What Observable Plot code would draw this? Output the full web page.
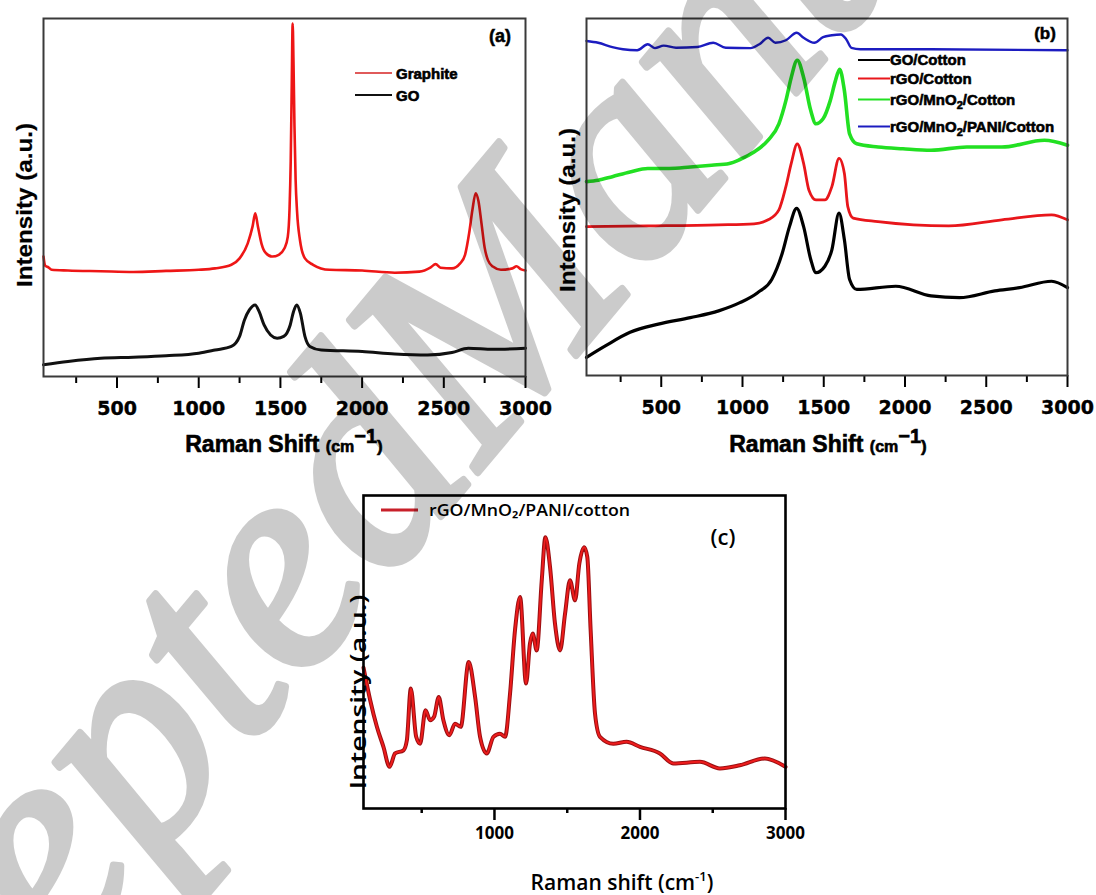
<!DOCTYPE html>
<html><head><meta charset="utf-8">
<script src="https://cdn.jsdelivr.net/npm/d3@7"></script>
<script src="https://cdn.jsdelivr.net/npm/@observablehq/plot@0.6"></script>
<style>
body{margin:0;background:#fff;}
#wrap{position:relative;width:1096px;height:895px;overflow:hidden;background:#fff;}
#wrap svg{position:absolute;}
</style></head>
<body><div id="wrap"></div>
<script>
// ---------- DATA (x = Raman shift cm-1, y = relative intensity, % of frame height) ----------
const majorAB = [500, 1000, 1500, 2000, 2500, 3000];
const minorAB = [250, 750, 1250, 1750, 2250, 2750];
const majorC = [1000, 2000, 3000];
const minorC = [500, 1500, 2500];

// panel (a)
const graphite = [[50,33.5],[60,31],[80,30.5],[100,29.8],[200,29.6],[400,29.4],[600,29.2],[800,29.5],[1000,29.8],[1100,30.2],[1200,31.2],[1250,33],[1300,37.2],[1330,42],[1346,45.6],[1362,42],[1385,37],[1410,34.5],[1450,33.5],[1490,34],[1525,35.8],[1545,39],[1556,47],[1563,60],[1569,80],[1575,98.6],[1580,88],[1586,70],[1593,55],[1602,46],[1620,38],[1650,33],[1700,31.2],[1800,29.8],[2000,29.6],[2200,29],[2350,29.3],[2420,30.5],[2450,31.4],[2480,30.4],[2550,30.2],[2600,31.6],[2630,34],[2655,40],[2675,46.5],[2695,51.2],[2712,49],[2730,43],[2750,36],[2770,32.5],[2800,30.7],[2850,29.8],[2920,30.2],[2945,30.8],[2970,30],[3000,29.6]];
const goA = [[50,3.3],[200,4.2],[400,5.1],[600,5.4],[800,5.8],[1000,6.5],[1100,7.4],[1200,8.4],[1250,11.2],[1280,15.8],[1310,18.6],[1345,20],[1370,18.1],[1400,14.4],[1440,11.6],[1480,10.7],[1520,11.2],[1560,14.4],[1580,18.1],[1600,20],[1622,17.7],[1650,11.2],[1680,8.4],[1750,7.4],[2000,7],[2200,6.3],[2400,6],[2550,6.7],[2650,7.9],[2800,7.6],[3000,7.9]];
const legendA = ["Graphite", "GO"];

// panel (b)
const goCotton = [[40,5.1],[156,8.3],[308,12.1],[482,14.4],[679,16.2],[853,18.1],[984,20.4],[1093,23.2],[1180,26.9],[1245,34.3],[1289,41.7],[1333,46.8],[1376,41.7],[1420,32.5],[1452,28.8],[1507,30.6],[1550,35.2],[1594,45.5],[1627,38],[1659,26.9],[1703,24.1],[1943,25],[2160,22.3],[2335,21.8],[2553,23.7],[2705,24.6],[2902,26.4],[3000,24.6]];
const rgoCotton = [[40,41.7],[417,41.9],[853,42.2],[1071,42.5],[1158,43.6],[1224,46.4],[1267,52.9],[1300,59.4],[1337,64.9],[1376,59.4],[1409,51.9],[1452,49.2],[1507,49.2],[1550,52.9],[1594,60.8],[1627,56.6],[1648,47.3],[1681,44.1],[1834,43.1],[2269,41.9],[2596,43.6],[2902,45],[3000,43.6]];
const rgoMnO2 = [[40,54.3],[112,54.7],[199,55.7],[308,57],[417,58],[548,58],[679,58.4],[810,58.9],[919,59.4],[984,60.5],[1071,62.6],[1158,65.9],[1224,70.5],[1267,77],[1300,83.5],[1337,88.3],[1376,83.5],[1420,74.2],[1452,70.5],[1496,71.9],[1540,77],[1572,82.6],[1598,85.8],[1627,79.8],[1659,67.7],[1703,64.9],[1834,64],[1987,63.5],[2160,63.1],[2380,64],[2596,64],[2858,65.9],[3000,64.5]];
const rgoMnO2Pani = [[40,93.7],[112,93.2],[199,92],[264,91.4],[352,91.1],[417,92.8],[461,91.7],[515,92.4],[591,91.8],[722,92],[820,93.2],[897,91.8],[1049,91.7],[1104,92.8],[1158,94.6],[1202,93.2],[1267,93.9],[1333,96],[1376,94.6],[1442,93.2],[1496,94.8],[1550,95.3],[1605,95.5],[1638,94.2],[1670,91.8],[1725,91.4],[2160,91.4],[3000,91.1]];
const legendB = ["GO/Cotton", "rGO/Cotton", "rGO/MnO2/Cotton", "rGO/MnO2/PANI/Cotton"];

// panel (c)
const paniCotton = [[100,45],[146,34.6],[192,26.1],[237,19.7],[279,13.3],[317,17.6],[375,18.6],[398,21.8],[425,38.3],[462,22.9],[489,20.7],[526,31.4],[558,28.2],[585,29.3],[617,35.6],[649,28.2],[690,23.4],[729,27.1],[768,26.1],[823,46.8],[867,35.6],[901,22.9],[947,17.6],[993,22.9],[1038,23.9],[1073,22.9],[1107,36.7],[1141,56.9],[1176,67.6],[1217,39.9],[1244,52.7],[1263,55.9],[1290,50.5],[1325,72.9],[1350,86.7],[1382,77.1],[1416,59],[1451,50.5],[1485,62.2],[1519,72.9],[1554,66.5],[1583,78.2],[1617,83.5],[1638,80.3],[1661,56.9],[1691,30.3],[1725,22.9],[1817,20.7],[1908,21.3],[2000,19.7],[2137,17.6],[2229,14.4],[2412,14.9],[2549,12.8],[2686,13.8],[2858,16],[3000,13.3]];
const legendC = "rGO/MnO₂/PANI/cotton";

const watermark = ["Accepted ", "Manuscript"];

// ---------- helpers ----------
const wrap = document.getElementById("wrap");
const toObj = arr => arr.map(([x, y]) => ({x, y}));
function place(svg, left, top) { svg.style.left = left + "px"; svg.style.top = top + "px"; wrap.appendChild(svg); return d3.select(svg); }
function txt(sel, o) {
  const t = sel.append("text").attr("x", o.x).attr("y", o.y)
    .attr("text-anchor", o.anchor || "middle")
    .attr("font-family", o.family || "Liberation Sans, Arial, sans-serif")
    .attr("font-size", o.size).attr("font-weight", o.weight || "bold")
    .attr("fill", o.fill || "#000");
  if (o.stroke) t.attr("stroke", o.fill || "#000").attr("stroke-width", o.stroke);
  if (o.rotate) t.attr("transform", `rotate(${o.rotate},${o.x},${o.y})`);
  if (o.length) t.attr("textLength", o.length).attr("lengthAdjust", "spacingAndGlyphs");
  t.text(o.text);
  return t;
}
function styleTicks(sel, attrs) {
  const t = sel.selectAll('g[aria-label="x-axis tick label"] text');
  Object.entries(attrs).forEach(([k, v]) => t.attr(k, v));
}
function xTitleAB(s, cx) {
  const xt = s.append("text").attr("x", cx).attr("y", 452).attr("text-anchor", "middle")
    .attr("font-family", "Liberation Sans, Arial, sans-serif").attr("font-weight", "bold").attr("stroke", "#000").attr("stroke-width", 0.6);
  xt.append("tspan").attr("font-size", 23).text("Raman Shift ");
  xt.append("tspan").attr("font-size", 16).text("(cm");
  xt.append("tspan").attr("font-size", 20).attr("dy", -9).text("−1");
  xt.append("tspan").attr("font-size", 17).attr("dy", 9).text(")");
}

// ---------- Panel (a) ----------
{
  const series = [
    {data: toObj(graphite), color: "#ee1616", w: 2.6},
    {data: toObj(goA), color: "#111", w: 3}
  ];
  const p = Plot.plot({
    width: 540, height: 460,
    marginLeft: 43, marginRight: 15, marginTop: 18, marginBottom: 84,
    x: {domain: [50, 3000]}, y: {domain: [0, 100], axis: null},
    style: {background: "transparent", overflow: "visible"},
    marks: [
      ...series.map(s => Plot.line(s.data, {x: "x", y: "y", stroke: s.color, strokeWidth: s.w, curve: "monotone-x"})),
      Plot.axisX(minorAB, {tickSize: 7, tickFormat: () => "", strokeWidth: 2, label: null}),
      Plot.axisX(majorAB, {tickSize: 12, tickPadding: 13, strokeWidth: 2, label: null, tickFormat: d => String(d)}),
      Plot.frame({stroke: "#3a3a3a", strokeWidth: 2})
    ]
  });
  const s = place(p, 0, 0);
  styleTicks(s, {"font-size": 19, "font-weight": "bold", "font-family": "DejaVu Sans, sans-serif", "stroke": "#000", "stroke-width": 0.4});
  const lg = s.append("g");
  [["#e05a5a", 73], ["#111", 95]].forEach(([c, y], i) => {
    lg.append("line").attr("x1", 355).attr("x2", 392).attr("y1", y).attr("y2", y).attr("stroke", c).attr("stroke-width", 2);
    txt(lg, {x: 396, y: y + 5.5, text: legendA[i], size: 15, anchor: "start", stroke: 0.6});
  });
  txt(s, {x: 500, y: 42, text: "(a)", size: 18, stroke: 0.5});
  xTitleAB(s, 284);
  txt(s, {x: 32, y: 205, text: "Intensity (a.u.)", size: 22, rotate: -90, length: 164, stroke: 0.2});
}

// ---------- Panel (b) ----------
{
  const series = [
    {data: toObj(goCotton), color: "#000", w: 3.2},
    {data: toObj(rgoCotton), color: "#e8161b", w: 2.8},
    {data: toObj(rgoMnO2), color: "#22e022", w: 3.6},
    {data: toObj(rgoMnO2Pani), color: "#1c1cc0", w: 2.4}
  ];
  const p = Plot.plot({
    width: 556, height: 460,
    marginLeft: 46, marginRight: 29, marginTop: 18, marginBottom: 85,
    x: {domain: [40, 3000]}, y: {domain: [0, 100], axis: null},
    style: {background: "transparent", overflow: "visible"},
    marks: [
      ...series.map(s => Plot.line(s.data, {x: "x", y: "y", stroke: s.color, strokeWidth: s.w, curve: "monotone-x"})),
      Plot.axisX(minorAB, {tickSize: 7, tickFormat: () => "", strokeWidth: 2, label: null}),
      Plot.axisX(majorAB, {tickSize: 12, tickPadding: 13, strokeWidth: 2, label: null, tickFormat: d => String(d)}),
      Plot.frame({stroke: "#3a3a3a", strokeWidth: 2})
    ]
  });
  const s = place(p, 540, 0);
  styleTicks(s, {"font-size": 19, "font-weight": "bold", "font-family": "DejaVu Sans, sans-serif", "stroke": "#000", "stroke-width": 0.4});
  const lg = s.append("g");
  const cols = ["#000", "#e8161b", "#22e022", "#1c1cc0"];
  const ys = [60, 78.5, 99.5, 126.5];
  legendB.forEach((name, i) => {
    lg.append("line").attr("x1", 318).attr("x2", 350).attr("y1", ys[i]).attr("y2", ys[i]).attr("stroke", cols[i]).attr("stroke-width", 2);
    const t = lg.append("text").attr("x", 350).attr("y", ys[i] + 5).attr("text-anchor", "start")
      .attr("font-family", "Liberation Sans, Arial, sans-serif")
      .attr("font-weight", "bold").attr("font-size", 15).attr("stroke", "#000").attr("stroke-width", 0.6);
    const parts = name.split("2");
    parts.forEach((part, j) => {
      t.append("tspan").attr("font-size", 15).attr("dy", j === 0 ? 0 : -4).text(part);
      if (j < parts.length - 1) t.append("tspan").attr("font-size", 11).attr("dy", 4).text("2");
    });
  });
  txt(s, {x: 505, y: 39, text: "(b)", size: 17, stroke: 0.5});
  xTitleAB(s, 288);
  txt(s, {x: 35, y: 210, text: "Intensity (a.u.)", size: 22, rotate: -90, length: 164, stroke: 0.2});
}

// ---------- Panel (c) ----------
{
  const d = toObj(paniCotton);
  const p = Plot.plot({
    width: 520, height: 425,
    marginLeft: 63, marginRight: 35, marginTop: 25, marginBottom: 87,
    x: {domain: [100, 3000]}, y: {domain: [0, 100], axis: null},
    style: {background: "transparent", overflow: "visible"},
    marks: [
      Plot.line(d, {x: "x", y: "y", stroke: "#9a0f12", strokeWidth: 4, curve: "monotone-x"}),
      Plot.line(d, {x: "x", y: "y", stroke: "#ee1c1c", strokeWidth: 2, curve: "monotone-x"}),
      Plot.axisX(minorC, {tickSize: 5, tickFormat: () => "", strokeWidth: 2.5, label: null}),
      Plot.axisX(majorC, {tickSize: 12, tickPadding: 6, strokeWidth: 2.5, label: null, tickFormat: d => String(d)}),
      Plot.frame({stroke: "#000", strokeWidth: 2.6})
    ]
  });
  const s = place(p, 300, 470);
  styleTicks(s, {"font-size": 17, "font-weight": "bold", "font-family": "Open Sans, sans-serif"});
  s.append("line").attr("x1", 81).attr("x2", 118).attr("y1", 40).attr("y2", 40).attr("stroke", "#c8202a").attr("stroke-width", 3);
  txt(s, {x: 129, y: 46, text: legendC, size: 17, anchor: "start", weight: 600, family: "Open Sans, sans-serif", length: 201});
  txt(s, {x: 423, y: 75, text: "(c)", size: 22, weight: 600, family: "Open Sans, sans-serif"});
  const xt = s.append("text").attr("x", 322).attr("y", 420).attr("text-anchor", "middle")
    .attr("font-family", "Open Sans, sans-serif").attr("font-weight", 600);
  xt.append("tspan").attr("font-size", 21).text("Raman shift (cm");
  xt.append("tspan").attr("font-size", 13).attr("dy", -9).text("-1");
  xt.append("tspan").attr("font-size", 21).attr("dy", 9).text(")");
  txt(s, {x: 66, y: 222, text: "Intensity (a.u.)", size: 21, weight: 600, family: "Open Sans, sans-serif", rotate: -90, length: 195});
}

// ---------- watermark overlay ----------
{
  const ns = "http://www.w3.org/2000/svg";
  const svg = document.createElementNS(ns, "svg");
  svg.setAttribute("width", 1096); svg.setAttribute("height", 895);
  svg.style.left = "0px"; svg.style.top = "0px"; svg.style.pointerEvents = "none";
  wrap.appendChild(svg);
  const s = d3.select(svg);
  const g = s.append("g").attr("transform", "translate(480,470) rotate(-50)")
    .attr("font-family", "Liberation Serif, serif").attr("font-style", "italic").attr("font-size", 300)
    .attr("fill", "#000").attr("stroke", "#000").attr("stroke-width", 7).attr("stroke-linejoin", "round")
    .attr("opacity", 0.2);
  g.append("text").attr("x", 0).attr("y", 0).attr("text-anchor", "end").text(watermark[0]);
  g.append("text").attr("x", 0).attr("y", 0).attr("text-anchor", "start").text(watermark[1]);
}
</script></body></html>
